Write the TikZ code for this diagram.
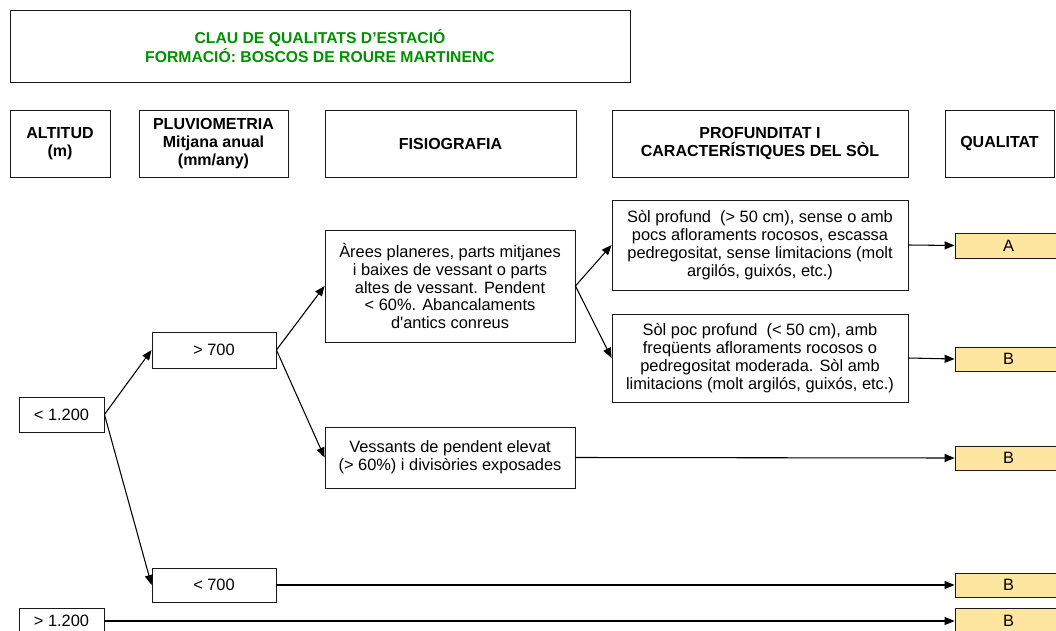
\documentclass[tikz,border=0pt]{standalone}
\usepackage{fontspec}
\setmainfont{Liberation Sans}
\usetikzlibrary{arrows.meta}
\definecolor{ttlgreen}{RGB}{0,145,0}
\definecolor{qfill}{RGB}{255,230,160}
% box from corner (x1,y1) to (x2,y2), in pixels
\newcommand\pxbox[7]{\node[#1, minimum width={(#5-#3)*0.75pt}, minimum height={(#6-#4)*0.75pt}] (#2) at ({(#3+#5)/2},{(#4+#6)/2}) {#7};}
\begin{document}
\begin{tikzpicture}[x=0.75pt,y=-0.75pt,
  box/.style={draw=black!90, line width=0.65pt, inner sep=0pt, align=center,
    font=\fontsize{12.3}{13.4}\selectfont},
  hdr/.style={box, font=\bfseries\fontsize{12}{13.2}\selectfont},
  ttl/.style={box, text=ttlgreen, font=\bfseries\fontsize{11.8}{14}\selectfont},
  qbox/.style={box, fill=qfill},
  conn/.style={line width=0.8pt, -{Triangle[length=7.5pt,width=6pt]}}]
\useasboundingbox (0,0) rectangle (1056,631);

% title
\pxbox{ttl}{title}{10}{10}{630}{82}{CLAU DE QUALITATS D’ESTACIÓ\\FORMACIÓ: BOSCOS DE ROURE MARTINENC}

% headers
\pxbox{hdr}{halt}{10}{110}{110}{177}{ALTITUD\\(m)}
\pxbox{hdr}{hpluv}{139}{110}{288}{177}{PLUVIOMETRIA\\Mitjana anual\\(mm/any)}
\pxbox{hdr}{hfis}{325}{110}{576}{177}{FISIOGRAFIA}
\pxbox{hdr}{hprof}{612}{110}{908}{177}{PROFUNDITAT I\\CARACTERÍSTIQUES DEL SÒL}
\pxbox{hdr}{hqual}{945}{110}{1054}{177}{QUALITAT}

% altitude
\pxbox{box}{alt1}{19}{397}{104}{432}{< 1.200}
\pxbox{box}{alt2}{19}{608}{104}{634}{> 1.200}

% pluviometry
\pxbox{box}{pl1}{152}{332}{276}{368}{> 700}
\pxbox{box}{pl2}{152}{568}{276}{602}{< 700}

% physiography
\pxbox{box}{fis1}{325}{230}{575}{342}{Àrees planeres, parts mitjanes\\i baixes de vessant o parts\\altes de vessant. Pendent\\< 60\%. Abancalaments\\d\textquotesingle antics conreus}
\pxbox{box}{fis2}{325}{427}{575}{488}{Vessants de pendent elevat\\(> 60\%) i divisòries exposades}

% soil
\pxbox{box}{sol1}{612}{200}{908}{290}{Sòl profund\ \ (> 50 cm), sense o amb\\pocs afloraments rocosos, escassa\\pedregositat, sense limitacions (molt\\argilós, guixós, etc.)}
\pxbox{box}{sol2}{612}{314}{908}{402}{Sòl poc profund\ \ (< 50 cm), amb\\freqüents afloraments rocosos o\\pedregositat moderada. Sòl amb\\limitacions (molt argilós, guixós, etc.)}

% quality
\pxbox{qbox}{qA}{955}{233}{1062}{258}{A}
\pxbox{qbox}{qB1}{955}{347}{1062}{371}{B}
\pxbox{qbox}{qB2}{955}{446}{1062}{470}{B}
\pxbox{qbox}{qB3}{955}{573}{1062}{597}{B}
\pxbox{qbox}{qB4}{955}{608}{1062}{634}{B}

% connectors
\draw[conn] (alt1.east) -- (pl1.west);
\draw[conn] (alt1.east) -- (pl2.west);
\draw[conn] (alt2.east) -- (qB4.west);
\draw[conn] (pl1.east) -- (fis1.west);
\draw[conn] (pl1.east) -- (fis2.west);
\draw[conn] (pl2.east) -- (qB3.west);
\draw[conn] (fis1.east) -- (sol1.west);
\draw[conn] (fis1.east) -- (sol2.west);
\draw[conn] (fis2.east) -- (qB2.west);
\draw[conn] (sol1.east) -- (qA.west);
\draw[conn] (sol2.east) -- (qB1.west);
\end{tikzpicture}
\end{document}
